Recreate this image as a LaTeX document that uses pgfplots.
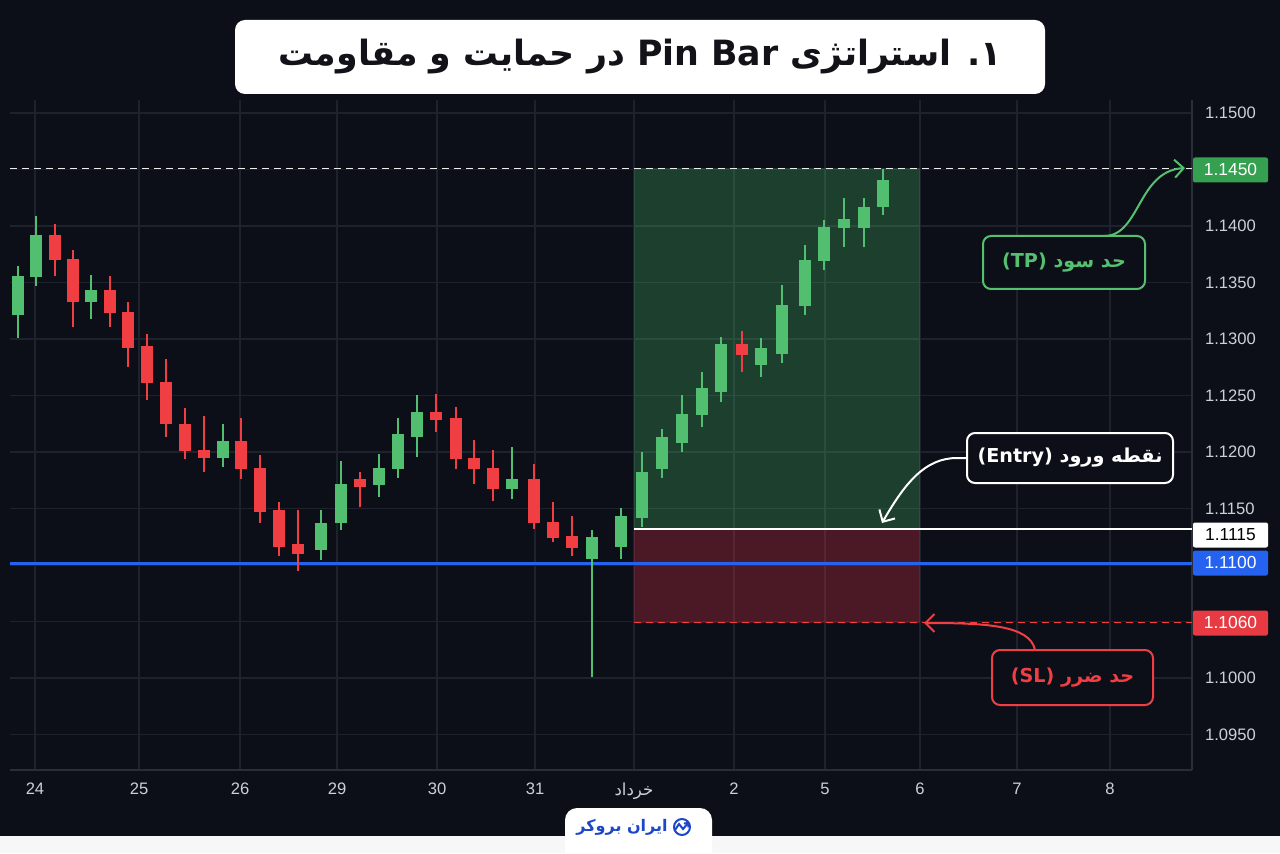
\documentclass[border=0pt]{standalone}
\usepackage{pgfplots}
\pgfplotsset{compat=1.18}
\usepackage{pgfplotstable}
\usepackage{fontspec}
\setmainfont{Liberation Sans}
\newfontfamily\fa[Script=Arabic]{DejaVu Sans}
\TeXXeTstate=1
\usetikzlibrary{arrows.meta}

\definecolor{bg}{RGB}{12,15,23}
\definecolor{gridc}{RGB}{30,34,45}
\definecolor{axc}{RGB}{42,46,57}
\definecolor{cg}{RGB}{82,190,112}
\definecolor{cr}{RGB}{240,62,66}
\definecolor{tickc}{RGB}{205,208,214}
\definecolor{blueline}{RGB}{38,98,240}
\definecolor{lblgreen}{RGB}{52,160,80}
\definecolor{lblred}{RGB}{232,58,66}
\definecolor{tpg}{RGB}{84,192,112}
\definecolor{brand}{RGB}{30,70,200}

% green candles: x low high open close
\pgfplotstableread{
x lo hi bot top
18 1.1301 1.1365 1.1321 1.1356
36 1.1347 1.1409 1.1355 1.1392
91 1.1318 1.1357 1.1333 1.1343
223 1.1187 1.1225 1.1195 1.1210
321 1.1104 1.1149 1.1113 1.1137
341 1.1131 1.1192 1.1137 1.1172
379 1.1160 1.1198 1.1171 1.1186
398 1.1177 1.1230 1.1185 1.1216
417 1.1196 1.1250 1.1213 1.1235
512 1.1158 1.1204 1.1167 1.1176
592 1.1001 1.1131 1.1105 1.1125
621 1.1105 1.1150 1.1116 1.1143
642 1.1134 1.1200 1.1142 1.1182
662 1.1177 1.1220 1.1185 1.1213
682 1.1200 1.1250 1.1208 1.1234
702 1.1222 1.1271 1.1233 1.1257
721 1.1244 1.1302 1.1253 1.1296
761 1.1266 1.1301 1.1277 1.1292
782 1.1279 1.1348 1.1287 1.1330
805 1.1321 1.1383 1.1329 1.1370
824 1.1361 1.1405 1.1369 1.1399
844 1.1381 1.1425 1.1398 1.1406
864 1.1381 1.1425 1.1398 1.1417
883 1.1410 1.1450 1.1417 1.1441
}\greenc

% red candles: x low high close open
\pgfplotstableread{
x lo hi bot top
55 1.1356 1.1402 1.1370 1.1392
73 1.1311 1.1379 1.1333 1.1371
110 1.1311 1.1356 1.1323 1.1343
128 1.1275 1.1333 1.1292 1.1324
147 1.1246 1.1304 1.1261 1.1294
166 1.1213 1.1282 1.1225 1.1262
185 1.1194 1.1239 1.1201 1.1225
204 1.1182 1.1232 1.1195 1.1202
241 1.1176 1.1230 1.1185 1.1210
260 1.1137 1.1197 1.1147 1.1186
279 1.1108 1.1156 1.1116 1.1149
298 1.1095 1.1149 1.1110 1.1119
360 1.1151 1.1182 1.1169 1.1176
436 1.1218 1.1251 1.1228 1.1235
456 1.1185 1.1240 1.1194 1.1230
474 1.1172 1.1211 1.1185 1.1195
493 1.1157 1.1202 1.1167 1.1186
534 1.1132 1.1189 1.1137 1.1176
553 1.1120 1.1156 1.1124 1.1138
572 1.1108 1.1143 1.1115 1.1126
742 1.1271 1.1307 1.1286 1.1296
}\redc

\begin{document}
\begin{tikzpicture}[x=0.5pt,y=0.5pt]
\fill[bg] (0,0) rectangle (1280,853);

\begin{axis}[
  at={(5pt,41.5pt)}, anchor=south west,
  width=591pt, height=335pt, scale only axis,
  xmin=10, xmax=1192, ymin=1.091858, ymax=1.151150,
  axis x line*=bottom, axis y line*=right,
  axis line style={draw=axc, line width=0.6pt},
  grid=major, major grid style={draw=gridc, line width=0.6pt},
  major tick length=0pt,
  xtick={35,139,240,337,437,535,634,734,825,920,1017,1110},
  xticklabels={24,25,26,29,30,31,{\fa خرداد},2,5,6,7,8},
  ytick={1.095,1.100,1.105,1.110,1.115,1.120,1.125,1.130,1.135,1.140,1.145,1.150},
  yticklabel style={xshift=3pt, /pgf/number format/fixed, /pgf/number format/fixed zerofill, /pgf/number format/precision=4, /pgf/number format/assume math mode=true},
  xticklabel style={yshift=-3pt},
  ticklabel style={font=\fontsize{8.3}{9}\selectfont, text=tickc},
]
% trade zones
\fill[fill={rgb,255:red,70;green,180;blue,100}, fill opacity=0.3] (634,1.1132) rectangle (920,1.1451);
\fill[fill={rgb,255:red,220;green,50;blue,70}, fill opacity=0.3] (634,1.1049) rectangle (920,1.1132);
% levels
\draw[white!85!gray, dash pattern=on 3.5pt off 2.5pt, line width=0.7pt] (10,1.1451) -- (1192,1.1451);
\draw[blueline, line width=1.6pt] (10,1.1101) -- (1192,1.1101);
\draw[white, line width=1pt] (634,1.1132) -- (1192,1.1132);
\draw[cr, dash pattern=on 3.5pt off 2.5pt, line width=0.8pt] (634,1.1049) -- (1192,1.1049);

% wicks
\addplot[draw=none, mark=none, forget plot, error bars/.cd, y dir=plus, y explicit, error mark=none,
  error bar style={draw=cg, solid, line width=1pt}]
  table[x=x, y=lo, y error expr=\thisrow{hi}-\thisrow{lo}] {\greenc};
\addplot[draw=none, mark=none, forget plot, error bars/.cd, y dir=plus, y explicit, error mark=none,
  error bar style={draw=cr, solid, line width=1pt}]
  table[x=x, y=lo, y error expr=\thisrow{hi}-\thisrow{lo}] {\redc};
% bodies
\addplot[draw=none, mark=none, forget plot, error bars/.cd, y dir=plus, y explicit, error mark=none,
  error bar style={draw=cg, solid, line width=6.3pt}]
  table[x=x, y=bot, y error expr=\thisrow{top}-\thisrow{bot}] {\greenc};
\addplot[draw=none, mark=none, forget plot, error bars/.cd, y dir=plus, y explicit, error mark=none,
  error bar style={draw=cr, solid, line width=6.3pt}]
  table[x=x, y=bot, y error expr=\thisrow{top}-\thisrow{bot}] {\redc};
\end{axis}

% price labels on the right
\begin{scope}[every node/.style={minimum width=37.5pt, minimum height=12.5pt, inner sep=0pt, rounded corners=1pt, font=\fontsize{8.7}{9}\selectfont}]
\node[fill=lblgreen, text=white] at (1230.5,683) {1.1450};
\node[fill=white, text=black] at (1230.5,318) {1.1115};
\node[fill=blueline, text=white] at (1230.5,290) {1.1100};
\node[fill=lblred, text=white] at (1230.5,230) {1.1060};
\end{scope}

% annotations
\node[draw=tpg, line width=1pt, rounded corners=4pt, fill=bg, text=tpg, minimum width=81pt, minimum height=26.5pt, inner sep=0pt, font=\fa\bfseries\fontsize{9.6}{12}\selectfont] at (1064,590.5) {\beginR حد سود \beginL(TP)\endL\endR};
\draw[tpg, line width=1pt, -{Straight Barb[length=4.5pt,width=9pt]}] (1105,617) .. controls (1140,618) and (1138,682) .. (1185,685);

\node[draw=white, line width=1pt, rounded corners=4pt, fill=bg, text=white, minimum width=103pt, minimum height=25pt, inner sep=0pt, font=\fa\bfseries\fontsize{9.6}{12}\selectfont] at (1070,395) {\beginR نقطه ورود \beginL(Entry)\endL\endR};
\draw[white, line width=1pt, -{Straight Barb[length=4.5pt,width=9pt]}] (967,395) -- (957,395) .. controls (925,395) and (905,370) .. (882,330);

\node[draw=cr, line width=1pt, rounded corners=4pt, fill=bg, text=cr, minimum width=80.5pt, minimum height=27.5pt, inner sep=0pt, font=\fa\bfseries\fontsize{9.6}{12}\selectfont] at (1072.5,175.5) {\beginR حد ضرر \beginL(SL)\endL\endR};
\draw[cr, line width=1pt, -{Straight Barb[length=4.5pt,width=9pt]}] (1035,203) .. controls (1030,228) and (985,230) .. (924,230);

% title
\node[fill=white, rounded corners=5pt, minimum width=405pt, minimum height=37pt, inner sep=0pt] at (640,796) {};
\node[text={rgb,255:red,18;green,18;blue,24}, font=\fa\bfseries\fontsize{17.4}{20}\selectfont] at (640,796) {\beginR ۱\kern0pt. استراتژی \beginL Pin Bar\endL{} در حمایت و مقاومت\endR};

% bottom band and brand tab
\fill[white!94!gray] (0,0) rectangle (1280,17);
\fill[white] (565,0) [rounded corners=6pt] -- (565,45) -- (712,45) [sharp corners] -- (712,0) -- cycle;
\node[text=brand, font=\fa\bfseries\fontsize{8}{10}\selectfont] at (622,26) {\beginR ایران بروکر\endR};
\draw[brand, line width=1pt] (682,26) circle (8);
\draw[brand, line width=1pt, -{Straight Barb[length=1.5pt,width=3pt]}] (675,23) -- (679,29) -- (683,24) -- (689,31);
\end{tikzpicture}
\end{document}
